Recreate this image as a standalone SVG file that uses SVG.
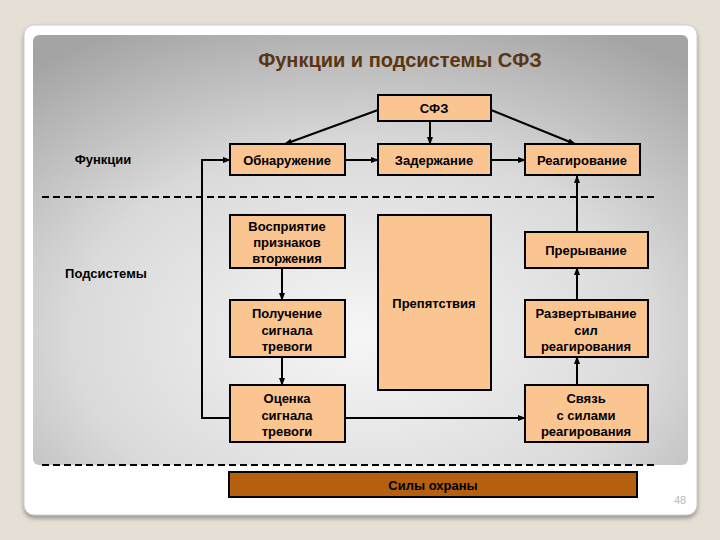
<svg xmlns="http://www.w3.org/2000/svg" width="720" height="540" viewBox="0 0 720 540">
<defs>
<radialGradient id="g" cx="0.5" cy="0.7" r="0.8">
<stop offset="0" stop-color="#f6f6f6"/><stop offset="0.55" stop-color="#dadada"/><stop offset="1" stop-color="#a4a4a4"/>
</radialGradient>
<marker id="a" markerWidth="8" markerHeight="8" refX="7" refY="4" orient="auto" markerUnits="userSpaceOnUse"><path d="M0,1 L8,4 L0,7 z" fill="#000"/></marker>
<filter id="s"><feDropShadow dx="0" dy="3" stdDeviation="2" flood-color="#777" flood-opacity="0.7"/></filter>
</defs>
<style>
.b{fill:#fbc592;stroke:#000;stroke-width:2}
text{font-family:"Liberation Sans",Arial,sans-serif;font-weight:bold;font-size:13px;text-anchor:middle;fill:#000}
.l{stroke:#000;stroke-width:2;fill:none}
.d{stroke:#000;stroke-width:2;stroke-dasharray:7,4;fill:none}
</style>
<rect width="720" height="540" fill="#e6dfd5"/>
<rect x="24" y="25" width="673" height="490" rx="10" fill="#fff" stroke="#ccc" filter="url(#s)"/>
<rect x="33" y="35" width="655" height="430" rx="6" fill="url(#g)"/>
<text x="400" y="67" style="font-size:20px;fill:#5a3512">Функции и подсистемы СФЗ</text>
<text x="103" y="164">Функции</text>
<text x="106" y="278">Подсистемы</text>
<path class="d" d="M42 197 H657"/>
<path class="d" d="M42 465 H657"/>
<g id="connectors">
<path class="l" marker-end="url(#a)" d="M378 110 L285 144"/>
<path class="l" marker-end="url(#a)" d="M430 122 V144"/>
<path class="l" marker-end="url(#a)" d="M491 110 L575 144"/>
<path class="l" marker-end="url(#a)" d="M345 160 H378"/>
<path class="l" marker-end="url(#a)" d="M491 160 H525"/>
<path class="l" marker-end="url(#a)" d="M577 232 V176"/>
<path class="l" marker-end="url(#a)" d="M577 300 V268"/>
<path class="l" marker-end="url(#a)" d="M577 385 V357"/>
<path class="l" marker-end="url(#a)" d="M282 268 V300"/>
<path class="l" marker-end="url(#a)" d="M282 357 V385"/>
<path class="l" marker-end="url(#a)" d="M345 418 H525"/>
<path class="l" marker-end="url(#a)" d="M230 418 H202 V160 H230"/>
</g>
<g id="n-sfz"><rect class="b" x="378" y="95" width="113" height="26"/><text x="434" y="113">СФЗ</text></g>
<g id="n-obn"><rect class="b" x="230" y="144" width="115" height="31"/><text x="287" y="165">Обнаружение</text></g>
<g id="n-zad"><rect class="b" x="378" y="144" width="113" height="31"/><text x="434" y="165">Задержание</text></g>
<g id="n-reag"><rect class="b" x="525" y="144" width="115" height="31"/><text x="582" y="165">Реагирование</text></g>
<g id="n-vospr"><rect class="b" x="230" y="215" width="115" height="53"/><text x="287" y="231">Восприятие</text><text x="287" y="247">признаков</text><text x="287" y="263">вторжения</text></g>
<g id="n-prep"><rect class="b" x="378" y="215" width="113" height="175"/><text x="434" y="308">Препятствия</text></g>
<g id="n-prer"><rect class="b" x="525" y="232" width="123" height="36"/><text x="586" y="255">Прерывание</text></g>
<g id="n-pol"><rect class="b" x="230" y="300" width="115" height="57"/><text x="287" y="318">Получение</text><text x="287" y="335">сигнала</text><text x="287" y="351">тревоги</text></g>
<g id="n-razv"><rect class="b" x="525" y="300" width="123" height="57"/><text x="586" y="318">Развертывание</text><text x="586" y="335">сил</text><text x="586" y="351">реагирования</text></g>
<g id="n-ots"><rect class="b" x="230" y="385" width="115" height="57"/><text x="287" y="403">Оценка</text><text x="287" y="420">сигнала</text><text x="287" y="436">тревоги</text></g>
<g id="n-svyaz"><rect class="b" x="525" y="385" width="123" height="57"/><text x="586" y="403">Связь</text><text x="586" y="420">с силами</text><text x="586" y="436">реагирования</text></g>
<g id="n-sily"><rect x="229" y="472" width="408" height="25" fill="#b5600f" stroke="#000" stroke-width="2"/><text x="433" y="490">Силы охраны</text></g>
<text x="680" y="504" style="font-weight:normal;font-size:11px;fill:#bbb">48</text>
</svg>
